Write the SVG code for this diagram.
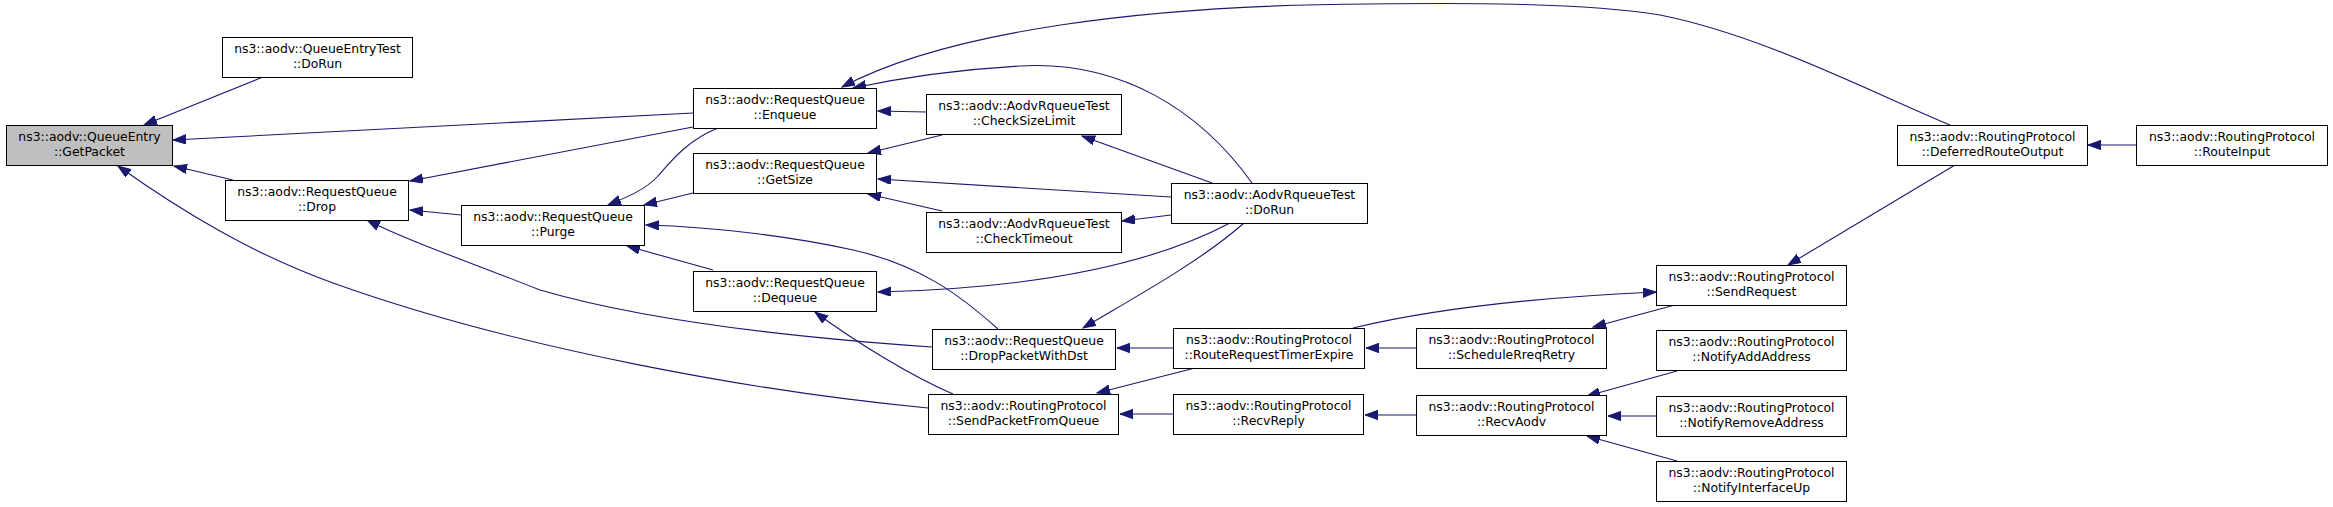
<svg xmlns="http://www.w3.org/2000/svg" width="2333" height="507" viewBox="0 0 2333 507">
<defs>
<style>
.node rect{fill:#ffffff;stroke:#000000;stroke-width:1}
.node.root rect{fill:#bfbfbf}
.node text{font-family:"DejaVu Sans","Liberation Sans",sans-serif;font-size:12.4px;fill:#000000;text-anchor:middle}
.edges path{fill:none;stroke:#191970;stroke-width:1.1;marker-end:url(#arr)}
</style>
<marker id="arr" markerUnits="userSpaceOnUse" markerWidth="14" markerHeight="10" refX="13" refY="4.7" orient="auto" viewBox="0 0 14 10">
<path d="M0,0 L13,4.7 L0,9.4 z" fill="#191970" stroke="#191970" stroke-width="1"/>
</marker>
</defs>
<rect x="0" y="0" width="2333" height="507" fill="#ffffff"/>
<g id="edges" class="edges">
<path d="M263,77 L144,125"/>
<path d="M693,113 L173,140"/>
<path d="M233,180 L174,166"/>
<path d="M928,408 C760,392 520,350 333,283 C250,253 180,210 118,166"/>
<path d="M693,127 L410,181"/>
<path d="M461,215 L410,210"/>
<path d="M932,347 C800,338 650,322 540,290 C470,262 410,242 367,220"/>
<path d="M718,128 C688,140 672,160 657,177 C645,190 625,198 608,205"/>
<path d="M693,193 L644,205"/>
<path d="M998,329 C960,295 920,265 853,250 C800,238 720,227 646,225"/>
<path d="M713,270 L627,246"/>
<path d="M926,112 L878,111"/>
<path d="M1252,183 C1200,110 1120,60 1020,66 C950,70 900,78 853,88"/>
<path d="M1950,125 C1860,87 1760,35 1660,15 C1580,2 1450,3 1370,4 C1150,5 950,30 842,87"/>
<path d="M942,135 L868,153"/>
<path d="M1171,197 L878,179"/>
<path d="M942,211 L868,194"/>
<path d="M1212,183 L1082,136"/>
<path d="M1171,215 L1122,221"/>
<path d="M1230,223 C1160,260 1050,288 878,292"/>
<path d="M1244,223 C1200,262 1130,300 1083,328"/>
<path d="M953,394 C913,377 857,343 815,312"/>
<path d="M1173,348 L1117,348"/>
<path d="M1195,368 L1097,393"/>
<path d="M1173,414 L1120,414"/>
<path d="M1416,348 L1366,348"/>
<path d="M1353,328 C1420,312 1520,298 1656,292"/>
<path d="M1675,305 L1593,327"/>
<path d="M1955,165 L1788,265"/>
<path d="M1416,415 L1365,415"/>
<path d="M1677,371 L1587,396"/>
<path d="M1656,416 L1608,416"/>
<path d="M1677,461 L1587,436"/>
<path d="M2136,145 L2088,145"/>
</g>
<g id="n_getpacket" class="node root"><rect x="6.5" y="125.5" width="166" height="40"/><text x="89.5" y="141">ns3::aodv::QueueEntry</text><text x="89.5" y="156">::GetPacket</text></g>
<g id="n_qetest_dorun" class="node"><rect x="222.5" y="37.5" width="190" height="40"/><text x="317.5" y="53">ns3::aodv::QueueEntryTest</text><text x="317.5" y="68">::DoRun</text></g>
<g id="n_drop" class="node"><rect x="225.5" y="180.5" width="183" height="40"/><text x="317" y="196">ns3::aodv::RequestQueue</text><text x="317" y="211">::Drop</text></g>
<g id="n_enqueue" class="node"><rect x="693.5" y="88.5" width="183" height="40"/><text x="785" y="104">ns3::aodv::RequestQueue</text><text x="785" y="119">::Enqueue</text></g>
<g id="n_getsize" class="node"><rect x="693.5" y="153.5" width="183" height="40"/><text x="785" y="169">ns3::aodv::RequestQueue</text><text x="785" y="184">::GetSize</text></g>
<g id="n_purge" class="node"><rect x="461.5" y="205.5" width="183" height="40"/><text x="553" y="221">ns3::aodv::RequestQueue</text><text x="553" y="236">::Purge</text></g>
<g id="n_dequeue" class="node"><rect x="693.5" y="271.5" width="183" height="40"/><text x="785" y="287">ns3::aodv::RequestQueue</text><text x="785" y="302">::Dequeue</text></g>
<g id="n_checksizelimit" class="node"><rect x="926.5" y="94.5" width="195" height="40"/><text x="1024" y="110">ns3::aodv::AodvRqueueTest</text><text x="1024" y="125">::CheckSizeLimit</text></g>
<g id="n_checktimeout" class="node"><rect x="926.5" y="212.5" width="195" height="40"/><text x="1024" y="228">ns3::aodv::AodvRqueueTest</text><text x="1024" y="243">::CheckTimeout</text></g>
<g id="n_aodvtest_dorun" class="node"><rect x="1171.5" y="183.5" width="196" height="40"/><text x="1269.5" y="199">ns3::aodv::AodvRqueueTest</text><text x="1269.5" y="214">::DoRun</text></g>
<g id="n_droppktwithdst" class="node"><rect x="932.5" y="329.5" width="183" height="40"/><text x="1024" y="345">ns3::aodv::RequestQueue</text><text x="1024" y="360">::DropPacketWithDst</text></g>
<g id="n_sendpktfromqueue" class="node"><rect x="928.5" y="394.5" width="190" height="40"/><text x="1023.5" y="410">ns3::aodv::RoutingProtocol</text><text x="1023.5" y="425">::SendPacketFromQueue</text></g>
<g id="n_rrte" class="node"><rect x="1173.5" y="328.5" width="191" height="40"/><text x="1269" y="344">ns3::aodv::RoutingProtocol</text><text x="1269" y="359">::RouteRequestTimerExpire</text></g>
<g id="n_recvreply" class="node"><rect x="1173.5" y="394.5" width="190" height="40"/><text x="1268.5" y="410">ns3::aodv::RoutingProtocol</text><text x="1268.5" y="425">::RecvReply</text></g>
<g id="n_schedrreq" class="node"><rect x="1416.5" y="328.5" width="190" height="40"/><text x="1511.5" y="344">ns3::aodv::RoutingProtocol</text><text x="1511.5" y="359">::ScheduleRreqRetry</text></g>
<g id="n_recvaodv" class="node"><rect x="1416.5" y="395.5" width="190" height="40"/><text x="1511.5" y="411">ns3::aodv::RoutingProtocol</text><text x="1511.5" y="426">::RecvAodv</text></g>
<g id="n_sendrequest" class="node"><rect x="1656.5" y="265.5" width="190" height="40"/><text x="1751.5" y="281">ns3::aodv::RoutingProtocol</text><text x="1751.5" y="296">::SendRequest</text></g>
<g id="n_notifyadd" class="node"><rect x="1656.5" y="330.5" width="190" height="40"/><text x="1751.5" y="346">ns3::aodv::RoutingProtocol</text><text x="1751.5" y="361">::NotifyAddAddress</text></g>
<g id="n_notifyremove" class="node"><rect x="1656.5" y="396.5" width="190" height="40"/><text x="1751.5" y="412">ns3::aodv::RoutingProtocol</text><text x="1751.5" y="427">::NotifyRemoveAddress</text></g>
<g id="n_notifyup" class="node"><rect x="1656.5" y="461.5" width="190" height="40"/><text x="1751.5" y="477">ns3::aodv::RoutingProtocol</text><text x="1751.5" y="492">::NotifyInterfaceUp</text></g>
<g id="n_deferred" class="node"><rect x="1897.5" y="125.5" width="190" height="40"/><text x="1992.5" y="141">ns3::aodv::RoutingProtocol</text><text x="1992.5" y="156">::DeferredRouteOutput</text></g>
<g id="n_routeinput" class="node"><rect x="2136.5" y="125.5" width="191" height="40"/><text x="2232" y="141">ns3::aodv::RoutingProtocol</text><text x="2232" y="156">::RouteInput</text></g>
</svg>
